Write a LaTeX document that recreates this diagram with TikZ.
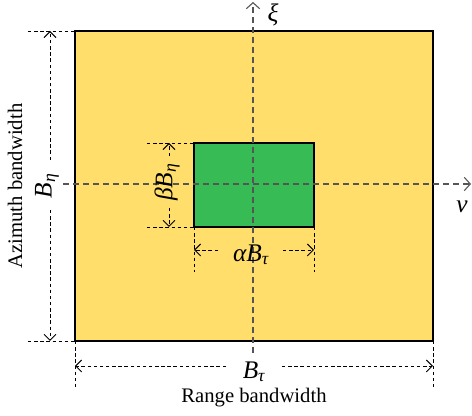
\documentclass[tikz,border=0pt]{standalone}
\usepackage{fontspec}
\setmainfont{Liberation Serif}
\usetikzlibrary{arrows.meta}
\definecolor{bandyellow}{RGB}{255,222,108}
\definecolor{subgreen}{RGB}{55,187,85}
\definecolor{axisgray}{RGB}{85,85,85}
\newcommand{\bwsym}[2]{#1\textsubscript{#2}}
\tikzset{
  bandbox/.style={fill=bandyellow, draw=black, line width=0.8pt},
  subbox/.style={fill=subgreen, draw=black, line width=1.1pt},
  axisline/.style={draw=axisgray, line width=0.8pt, dash pattern=on 4.5pt off 3pt,
    -{Straight Barb[length=4.5pt,width=10pt]}},
  extline/.style={line width=0.7pt, dash pattern=on 2.6pt off 2pt},
  dimarrow/.style={extline, -{Straight Barb[length=4.5pt,width=9pt]}},
  mathlbl/.style={inner sep=0pt, font=\fontsize{19}{22}\selectfont\itshape},
  textlbl/.style={inner sep=0pt, font=\fontsize{15.5}{18}\selectfont},
}
\begin{document}
\begin{tikzpicture}[x=0.75pt, y=-0.75pt]
  \useasboundingbox (0,0) rectangle (472,416);

  % full band and sub-band
  \draw[bandbox] (75,31) coordinate (bandNW) rectangle (433,341) coordinate (bandSE);
  \draw[subbox] (194,143) coordinate (subNW) rectangle (314,227) coordinate (subSE);

  % axes
  \draw[axisline] (253,353) -- (253,2);
  \draw[axisline] (63,184) -- (471,184);
  \node[mathlbl] (xi) at (273,15) {ξ};
  \node[mathlbl] (nu) at (462,207) {ν};

  % azimuth bandwidth
  \draw[extline] (28,31) -- (bandNW);
  \draw[extline] (28,341) -- (bandNW |- bandSE);
  \node[mathlbl, rotate=90] (Beta) at (47,186) {\bwsym{B}{η}};
  \coordinate (BetaTop) at (50,160);
  \coordinate (BetaBot) at (50,210);
  \draw[dimarrow] (BetaTop) -- (BetaTop |- bandNW);
  \draw[dimarrow] (BetaBot) -- (BetaBot |- bandSE);
  \node[textlbl, rotate=90] (azimuth) at (15,186) {Azimuth bandwidth};

  % beta B_eta
  \draw[extline] (147,143) -- (subNW);
  \draw[extline] (147,227) -- (subNW |- subSE);
  \node[mathlbl, rotate=90] (betaB) at (167,182) {β\bwsym{B}{η}};
  \coordinate (betaTop) at (169,156);
  \coordinate (betaBot) at (169,208);
  \draw[dimarrow] (betaTop) -- (betaTop |- subNW);
  \draw[dimarrow] (betaBot) -- (betaBot |- subSE);

  % alpha B_tau
  \draw[extline] (subNW |- subSE) -- (194,272);
  \draw[extline] (subSE) -- (314,272);
  \node[mathlbl] (alphaB) at (251,255) {α\bwsym{B}{τ}};
  \coordinate (alphaL) at (218,250);
  \coordinate (alphaR) at (283,250);
  \draw[dimarrow] (alphaL) -- (alphaL -| subNW);
  \draw[dimarrow] (alphaR) -- (alphaR -| subSE);

  % range bandwidth
  \draw[extline] (bandNW |- bandSE) -- (75,388);
  \draw[extline] (bandSE) -- (433,388);
  \node[mathlbl] (Btau) at (254,372) {\bwsym{B}{τ}};
  \coordinate (BtauL) at (226,366);
  \coordinate (BtauR) at (282,366);
  \draw[dimarrow] (BtauL) -- (BtauL -| bandNW);
  \draw[dimarrow] (BtauR) -- (BtauR -| bandSE);
  \node[textlbl] (range) at (254,398) {Range bandwidth};
\end{tikzpicture}
\end{document}
